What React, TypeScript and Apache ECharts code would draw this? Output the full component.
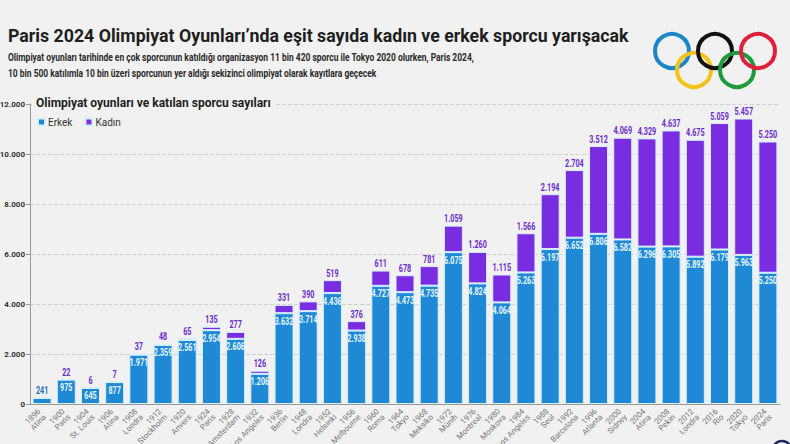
import React, { useEffect, useRef } from "react";
import * as echarts from "echarts";

const years = ["1896","1900","1904","1906","1908","1912","1920","1924","1928","1932","1936","1948","1952","1956","1960","1964","1968","1972","1976","1980","1984","1988","1992","1996","2000","2004","2008","2012","2016","2020","2024"];
const cities = ["Atina","Paris","St. Louis","Atina","Londra","Stockholm","Anvers","Paris","Amsterdam","Los Angeles","Berlin","Londra","Helsinki","Melbourne","Roma","Tokyo","Meksiko","Münih","Montreal","Moskova","Los Angeles","Seul","Barcelona","Atlanta","Sidney","Atina","Pekin","Londra","Rio","Tokyo","Paris"];
const erkek = [241,975,645,877,1971,2359,2561,2954,2606,1206,3632,3714,4436,2938,4727,4473,4735,6075,4824,4064,5263,6197,6652,6806,6582,6296,6305,5892,6179,5963,5250];
const kadin = [0,22,6,7,37,48,65,135,277,126,331,390,519,376,611,678,781,1059,1260,1115,1566,2194,2704,3512,4069,4329,4637,4675,5059,5457,5250];
const yTicks = [0, 2000, 4000, 6000, 8000, 10000, 12000];

const title = "Paris 2024 Olimpiyat Oyunları’nda eşit sayıda kadın ve erkek sporcu yarışacak";
const subtitle1 = "Olimpiyat oyunları tarihinde en çok sporcunun katıldığı organizasyon 11 bin 420 sporcu ile Tokyo 2020 olurken, Paris 2024,";
const subtitle2 = "10 bin 500 katılımla 10 bin üzeri sporcunun yer aldığı sekizinci olimpiyat olarak kayıtlara geçecek";
const chartTitle = "Olimpiyat oyunları ve katılan sporcu sayıları";

const BLUE = "#1f89d6";
const PURPLE = "#7a2de0";
const BG = "#f1f1f1";
const FONT = "Roboto, sans-serif";

const fmt = (v: number) => String(v).replace(/\B(?=(\d{3})+(?!\d))/g, ".");

export default function App() {
  const ref = useRef<HTMLDivElement>(null);
  useEffect(() => {
    document.body.style.margin = "0";
    const chart = echarts.init(ref.current!, undefined, { renderer: "svg" });
    const cats = years.map((y, i) => y + "\n" + cities[i]);
    const rings = [
      { x: 672, y: 51, c: "#1a86c8" },
      { x: 694, y: 70, c: "#f2c318" },
      { x: 715, y: 51, c: "#111111" },
      { x: 737, y: 70, c: "#1f9a3c" },
      { x: 758, y: 51, c: "#e0203a" },
    ];
    const textEl = (text: string, x: number, y: number, sx: number, size: number, weight: string, color: string) => ({
      type: "text", x, y, scaleX: sx, z: 20,
      style: { text, fontSize: size, fontWeight: weight, fontFamily: FONT, fill: color, align: "left", verticalAlign: "middle" },
    });
    const labelSX = 0.72;
    chart.setOption({
      animation: false,
      backgroundColor: BG,
      textStyle: { fontFamily: FONT },
      title: [
        { text: chartTitle, left: 32, top: 95, padding: [2, 4, 2, 4], backgroundColor: BG, textStyle: { fontSize: 12, fontWeight: "bold", color: "#1e1e1e" } },
      ],
      legend: {
        left: 32, top: 112, icon: "rect", itemWidth: 7, itemHeight: 7, itemGap: 12,
        textStyle: { fontSize: 10, color: "#333", padding: [0, 0, 0, -2] },
        data: ["Erkek", "Kadın"],
      },
      graphic: [
        textEl(title, 8, 35, 0.934, 19, "bold", "#1e1e1e"),
        textEl(subtitle1, 8, 57, 0.77, 11, "bold", "#2a2a2a"),
        textEl(subtitle2, 8, 73, 0.77, 11, "bold", "#2a2a2a"),
        ...rings.map((r) => ({
          type: "circle", shape: { cx: r.x, cy: r.y, r: 17 },
          style: { fill: "none", stroke: r.c, lineWidth: 4 }, z: 10,
        })),
        { type: "circle", shape: { cx: 782, cy: 450, r: 9 }, style: { fill: "none", stroke: "#1d2a5c", lineWidth: 2.5 }, z: 10 },
      ],
      grid: { left: 30, right: 10, top: 104, bottom: 40, containLabel: false, outerBoundsMode: "none" },
      xAxis: {
        type: "category", data: cats,
        axisLine: { lineStyle: { color: "#999" } },
        axisTick: { length: 3, lineStyle: { color: "#aaa" } },
        axisLabel: { interval: 0, rotate: 45, fontSize: 8, color: "#777", lineHeight: 8, margin: 9 },
      },
      yAxis: {
        type: "value", min: 0, max: 12000, interval: 2000,
        axisLine: { show: true, lineStyle: { color: "#999" } },
        axisTick: { show: true, length: 4, lineStyle: { color: "#999" } },
        axisLabel: { fontSize: 8, fontWeight: "bold", color: "#333", margin: 5, formatter: (v: number) => fmt(v), customValues: yTicks },
        splitLine: { lineStyle: { type: "dashed", color: "#cfcfcf" } },
      },
      series: [
        {
          name: "Erkek", type: "bar", stack: "t", barWidth: 19,
          itemStyle: { color: BLUE, borderColor: "#d5f1ff", borderWidth: 1 },
          data: erkek,
        },
        {
          name: "Kadın", type: "bar", stack: "t", barWidth: 19,
          itemStyle: { color: PURPLE, borderColor: "#d5f1ff", borderWidth: 1 },
          data: kadin,
        },
        {
          name: "labels", type: "custom", silent: true, z: 5,
          data: erkek.map((v, i) => [i, v, kadin[i]]),
          renderItem: (params: any, api: any) => {
            const i = api.value(0);
            const e = api.value(1);
            const k = api.value(2);
            const pe = api.coord([i, e]);
            const pt = api.coord([i, e + k]);
            const children: any[] = [];
            if (i === 0) {
              children.push({ type: "text", x: pe[0], y: pe[1] - 2, scaleX: labelSX,
                style: { text: fmt(e), fontSize: 10, fontWeight: "bold", fontFamily: FONT, fill: "#1c6fb3", align: "center", verticalAlign: "bottom" } });
            } else {
              children.push({ type: "text", x: pe[0], y: pe[1] + 3, scaleX: labelSX,
                style: { text: fmt(e), fontSize: 10, fontWeight: "bold", fontFamily: FONT, fill: "#e8f6ff", align: "center", verticalAlign: "top" } });
            }
            if (k > 0) {
              children.push({ type: "text", x: pt[0], y: pt[1] - 2, scaleX: labelSX,
                style: { text: fmt(k), fontSize: 10, fontWeight: "bold", fontFamily: FONT, fill: "#6a2ccc", align: "center", verticalAlign: "bottom" } });
            }
            return { type: "group", children };
          },
        },
      ],
    });
    return () => chart.dispose();
  }, []);
  return <div ref={ref} style={{ width: 790, height: 444 }} />;
}
